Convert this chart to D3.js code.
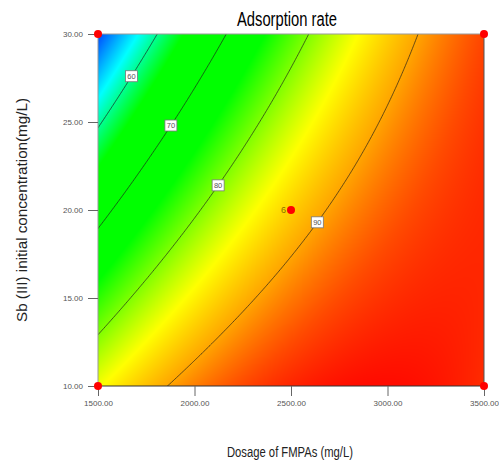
<!DOCTYPE html>
<html><head><meta charset="utf-8">
<script src="https://cdn.jsdelivr.net/npm/d3@7"></script>
<style>body{margin:0;background:#fff}svg{display:block}</style>
</head><body>
<script>
// ---- data ----
const title = "Adsorption rate";
const xLabel = "Dosage of FMPAs (mg/L)";
const yLabel = "Sb (III) initial concentration(mg/L)";
const xTicks = [1500, 2000, 2500, 3000, 3500];
const yTicks = [10, 15, 20, 25, 30];
// quadratic response model (coded units): [b0, A, B, AB, A^2, B^2]
const modelCoef = [87.7, 13.7, -8.9, 8.3, -5.8, -0.77];
const contourLevels = [60, 70, 80, 90];
const labelAtY = [27.6, 24.8, 21.4, 19.3]; // y value where each level label sits
const designPointsX = [1500, 3500, 1500, 3500, 2500];
const designPointsY = [30, 30, 10, 10, 20];
const designPointLabels = ["", "", "", "", "6"];
const colorValues = [50, 57, 64, 75, 85, 90, 94, 97];
const colorList = ["#0040ff","#00ffff","#00ff00","#00ff00","#ffff00","#ffa500","#ff4a00","#ff0c00"];

const W = 499, H = 465;
const m = {l: 98, r: 484, t: 34, b: 386};
const x = d3.scaleLinear().domain([1500, 3500]).range([m.l, m.r]);
const y = d3.scaleLinear().domain([10, 30]).range([m.b, m.t]);
const color = d3.scaleLinear().domain(colorValues).range(colorList).clamp(true).interpolate(d3.interpolateRgb);

function model(xv, yv) {
  const A = (xv - 2500) / 1000, B = (yv - 20) / 10;
  const c = modelCoef;
  return c[0] + c[1]*A + c[2]*B + c[3]*A*B + c[4]*A*A + c[5]*B*B;
}

const svg = d3.select("body").append("svg").attr("width", W).attr("height", H);

// ---- filled gradient via canvas image ----
const pw = m.r - m.l, ph = m.b - m.t;
const cv = document.createElement("canvas");
cv.width = pw; cv.height = ph;
const ctx = cv.getContext("2d");
const img = ctx.createImageData(pw, ph);
for (let j = 0; j < ph; j++) {
  const yv = y.invert(m.t + j + 0.5);
  for (let i = 0; i < pw; i++) {
    const xv = x.invert(m.l + i + 0.5);
    const c = d3.rgb(color(model(xv, yv)));
    const k = (j * pw + i) * 4;
    img.data[k] = c.r; img.data[k+1] = c.g; img.data[k+2] = c.b; img.data[k+3] = 255;
  }
}
ctx.putImageData(img, 0, 0);
svg.append("image").attr("x", m.l).attr("y", m.t).attr("width", pw).attr("height", ph)
  .attr("href", cv.toDataURL());

// ---- contour lines ----
const n = 240, mm = 240;
const gx0 = 1450, gx1 = 3550, gy0 = 9.5, gy1 = 30.5;
const values = new Array(n * mm);
for (let j = 0; j < mm; j++) for (let i = 0; i < n; i++) {
  values[j * n + i] = model(gx0 + i / (n - 1) * (gx1 - gx0), gy0 + j / (mm - 1) * (gy1 - gy0));
}
const contours = d3.contours().size([n, mm]).thresholds(contourLevels)(values);
const proj = d3.geoTransform({point: function(px, py) {
  const xv = gx0 + (px - 0.5) / (n - 1) * (gx1 - gx0);
  const yv = gy0 + (py - 0.5) / (mm - 1) * (gy1 - gy0);
  this.stream.point(x(xv), y(yv));
}});
const path = d3.geoPath(proj);
svg.append("clipPath").attr("id", "clip").append("rect")
  .attr("x", m.l).attr("y", m.t).attr("width", pw).attr("height", ph);
svg.append("g").attr("clip-path", "url(#clip)").selectAll("path").data(contours).join("path")
  .attr("d", path).attr("fill", "none").attr("stroke", "#1a1a1a").attr("stroke-opacity", 0.85)
  .attr("stroke-width", 0.8);

// ---- contour labels ----
contourLevels.forEach((lv, k) => {
  const yv = labelAtY[k];
  let lo = 1500, hi = 3500;
  for (let it = 0; it < 50; it++) {
    const mid = (lo + hi) / 2;
    if (model(mid, yv) < lv) lo = mid; else hi = mid;
  }
  const cx = x((lo + hi) / 2), cy = y(yv);
  const g = svg.append("g");
  g.append("rect").attr("x", cx - 6).attr("y", cy - 5.5).attr("width", 12).attr("height", 11)
    .attr("fill", "#fff").attr("stroke", "#777").attr("stroke-width", 0.8);
  g.append("text").attr("x", cx).attr("y", cy + 2.6).attr("text-anchor", "middle")
    .attr("font-family", "Liberation Sans Narrow, Arial, sans-serif").attr("font-size", 7.5)
    .attr("fill", "#555").text(lv);
});

// ---- frame ----
svg.append("line").attr("x1", m.l).attr("x2", m.r).attr("y1", m.t).attr("y2", m.t).attr("stroke", "#999").attr("stroke-width", 1);
svg.append("line").attr("x1", m.r).attr("x2", m.r).attr("y1", m.t).attr("y2", m.b).attr("stroke", "#555").attr("stroke-width", 1);
svg.append("line").attr("x1", m.l).attr("x2", m.l).attr("y1", m.t).attr("y2", m.b).attr("stroke", "#999").attr("stroke-width", 1);
svg.append("line").attr("x1", m.l).attr("x2", m.r).attr("y1", m.b).attr("y2", m.b).attr("stroke", "#333").attr("stroke-width", 1);

// ---- axes ----
const fmt = d3.format(".2f");
const xa = svg.append("g").attr("transform", `translate(0,${m.b})`)
  .call(d3.axisBottom(x).tickValues(xTicks).tickFormat(fmt).tickSize(10).tickPadding(4));
const ya = svg.append("g").attr("transform", `translate(${m.l},0)`)
  .call(d3.axisLeft(y).tickValues(yTicks).tickFormat(fmt).tickSize(10).tickPadding(5));
[xa, ya].forEach(a => {
  a.select(".domain").remove();
  a.selectAll(".tick line").attr("stroke", "#666");
  a.selectAll(".tick text").attr("font-family", "Liberation Sans Narrow, Arial, sans-serif")
    .attr("font-size", 8).attr("fill", "#555");
});

// ---- design points ----
svg.append("g").selectAll("circle").data(designPointsX).join("circle")
  .attr("cx", d => x(d)).attr("cy", (d, i) => y(designPointsY[i])).attr("r", 4).attr("fill", "#f00");
svg.append("g").selectAll("text").data(designPointLabels).join("text")
  .attr("x", (d, i) => x(designPointsX[i]) - 5).attr("y", (d, i) => y(designPointsY[i]) + 3)
  .attr("text-anchor", "end").attr("font-family", "Arial, sans-serif").attr("font-size", 9)
  .attr("fill", "#8a7000").text(d => d);

// ---- titles ----
svg.append("text").attr("x", 287).attr("y", 26).attr("text-anchor", "middle")
  .attr("font-family", "Arial, Liberation Sans, sans-serif").attr("font-size", 20)
  .attr("textLength", 100).attr("lengthAdjust", "spacingAndGlyphs").attr("fill", "#000").text(title);
svg.append("text").attr("x", 290).attr("y", 457).attr("text-anchor", "middle")
  .attr("font-family", "Arial, Liberation Sans, sans-serif").attr("font-size", 14)
  .attr("textLength", 126).attr("lengthAdjust", "spacingAndGlyphs").attr("fill", "#222").text(xLabel);
svg.append("text").attr("transform", "translate(27,210) rotate(-90)").attr("text-anchor", "middle")
  .attr("font-family", "Arial, Liberation Sans, sans-serif").attr("font-size", 14)
  .attr("textLength", 224).attr("lengthAdjust", "spacingAndGlyphs").attr("fill", "#222").text(yLabel);
</script>
</body></html>
